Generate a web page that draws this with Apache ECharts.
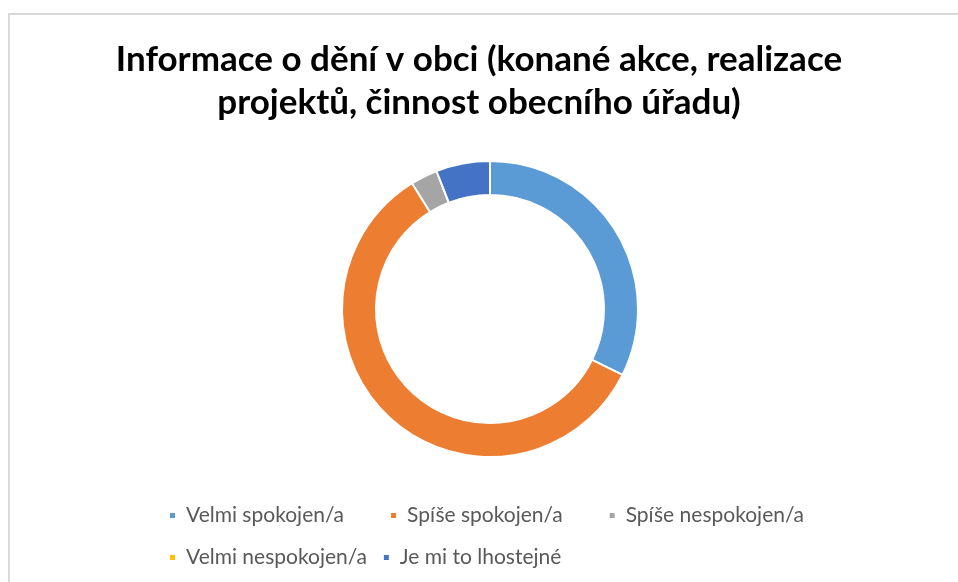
<!DOCTYPE html>
<html>
<head>
<meta charset="utf-8">
<script src="https://cdn.jsdelivr.net/npm/echarts@6/dist/echarts.min.js"></script>
<style>
  html, body { margin: 0; padding: 0; background: #fff; }
  #main { width: 958px; height: 582px; }
</style>
</head>
<body>
<div id="main"></div>
<script>
// odpovědi a počty
var kategorie = ["Velmi spokojen/a", "Spíše spokojen/a", "Spíše nespokojen/a", "Velmi nespokojen/a", "Je mi to lhostejné"];
var pocty = [11, 20, 1, 0, 2];
var barvy = ["#5B9BD5", "#ED7D31", "#A5A5A5", "#FFC000", "#4472C4"];

var myChart = echarts.init(document.getElementById("main"));

var legendText = {
  color: "#595959",
  fontSize: 21,
  fontFamily: "Lato",
  padding: [0, 0, 0, 5]
};

var option = {
  backgroundColor: "#fff",
  color: barvy,
  title: {
    text: "Informace o dění v obci (konané akce, realizace\nprojektů, činnost obecního úřadu)",
    left: "center",
    top: 33,
    textStyle: {
      fontFamily: "Lato",
      fontWeight: "bold",
      fontSize: 35,
      lineHeight: 43,
      color: "#000"
    }
  },
  legend: [
    {
      data: kategorie.slice(0, 3),
      left: 163,
      top: 500,
      icon: "rect",
      itemWidth: 7,
      itemHeight: 7,
      itemGap: 45,
      textStyle: legendText
    },
    {
      data: kategorie.slice(3),
      left: 163,
      top: 542,
      icon: "rect",
      itemWidth: 7,
      itemHeight: 7,
      itemGap: 15,
      textStyle: legendText
    }
  ],
  graphic: [
    {
      type: "rect",
      shape: { x: 9, y: 14, width: 960, height: 600 },
      style: { fill: "none", stroke: "#d9d9d9", lineWidth: 2 },
      silent: true
    }
  ],
  series: [
    {
      type: "pie",
      center: [490, 309],
      radius: [114, 148],
      startAngle: 90,
      clockwise: true,
      avoidLabelOverlap: false,
      label: { show: false },
      labelLine: { show: false },
      emphasis: { scale: false },
      itemStyle: { borderColor: "#fff", borderWidth: 2 },
      data: kategorie.map(function (k, i) {
        return { name: k, value: pocty[i] };
      })
    }
  ]
};

myChart.setOption(option);
</script>
</body>
</html>
